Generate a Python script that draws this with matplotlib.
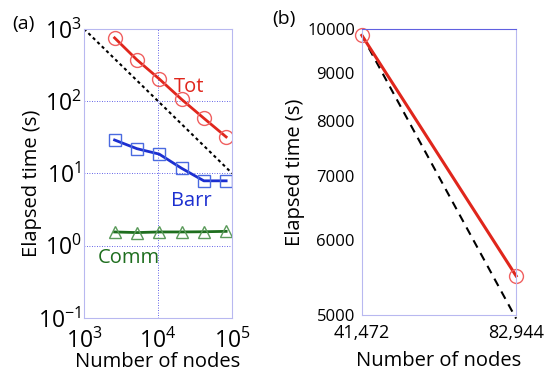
import matplotlib
matplotlib.use("Agg")
import matplotlib.pyplot as plt
from matplotlib.ticker import FixedLocator, NullLocator, NullFormatter

plt.rcParams['font.family'] = ['Open Sans', 'DejaVu Sans']
plt.rcParams['mathtext.fontset'] = 'custom'
plt.rcParams['mathtext.rm'] = 'Open Sans'

# panel (a) data
nodes = [2592, 5184, 10368, 20736, 41472, 82944]
tot = [750, 373, 203, 106, 58, 32]
barr = [29, 22, 18.5, 11.8, 7.9, 7.9]
comm = [1.55, 1.52, 1.55, 1.55, 1.56, 1.58]
ideal_a_x = [1e3, 1e5]
ideal_a_y = [1e3, 1e1]

# panel (b) data
nodes_b = [41472, 82944]
tot_b = [9850, 5500]
ideal_b = [9850, 4960]

grid_col = "#3030e0"
spine_col = "#b8b8f0"

fig = plt.figure(figsize=(5.45, 3.78), dpi=100)

# ---- (a)
ax = fig.add_axes([0.154, 0.1587, 0.272, 0.765])
ax.set_xscale("log")
ax.set_yscale("log")
ax.plot(ideal_a_x, ideal_a_y, "k--", lw=1.5, dashes=(1.5, 1.5))
ax.plot(nodes, tot, color="#e0261c", lw=2, marker="o", ms=10, mfc="none", mec="#f06060", mew=1)
ax.plot(nodes, barr, color="#1c2fd0", lw=2, marker="s", ms=9, mfc="none", mec="#4a6ae0", mew=1)
ax.plot(nodes, comm, color="#1e6e1e", lw=2, marker="^", ms=9, mfc="none", mec="#5a9a5a", mew=1)
ax.set_xlim(1e3, 1e5)
ax.set_ylim(1e-1, 1e3)
ax.xaxis.set_major_locator(FixedLocator([1e3, 1e4, 1e5]))
ax.yaxis.set_major_locator(FixedLocator([1e-1, 1e0, 1e1, 1e2, 1e3]))
ax.xaxis.set_minor_locator(NullLocator())
ax.yaxis.set_minor_locator(NullLocator())
ax.grid(True, color=grid_col, ls=(0, (1, 2)), lw=0.6)
for s in ax.spines.values():
    s.set_color(spine_col)
ax.tick_params(length=0, labelsize=16.5, pad=2)
ax.tick_params(axis="x", pad=8)
ax.set_xlabel("Number of nodes", fontsize=14.5)
ax.set_ylabel("Elapsed time (s)", fontsize=14.5)
ax.xaxis.set_label_coords(0.5, -0.118)
ax.yaxis.set_label_coords(-0.284, 0.467)
ax.text(2.6e4, 155, "Tot", color="#e0261c", fontsize=14.5, ha="center", va="center")
ax.text(2.8e4, 4.2, "Barr", color="#1c2fd0", fontsize=14.5, ha="center", va="center")
ax.text(4.0e3, 0.68, "Comm", color="#1e6e1e", fontsize=14.5, ha="center", va="center")
fig.text(23 / 545, 1 - 24 / 378, "(a)", fontsize=14, ha="center", va="center")

# ---- (b)
bx = fig.add_axes([0.664, 0.166, 0.283, 0.757])
bx.set_xscale("log")
bx.set_yscale("log")
bx.plot(nodes_b, ideal_b, "k--", lw=1.5, dashes=(4, 3))
bx.plot(nodes_b, tot_b, color="#e0261c", lw=2.2, marker="o", ms=10, mfc="none", mec="#f06060", mew=1)
bx.set_xlim(41472, 82944)
bx.set_ylim(5000, 10000)
bx.xaxis.set_major_locator(FixedLocator(nodes_b))
bx.xaxis.set_major_formatter(plt.FuncFormatter(lambda v, p: "{:,}".format(int(round(v)))))
bx.xaxis.set_minor_locator(NullLocator())
bx.yaxis.set_major_locator(FixedLocator([5000, 6000, 7000, 8000, 9000, 10000]))
bx.yaxis.set_major_formatter(plt.FuncFormatter(lambda v, p: "{:d}".format(int(round(v)))))
bx.yaxis.set_minor_locator(NullLocator())
bx.yaxis.set_minor_formatter(NullFormatter())
bx.xaxis.set_minor_formatter(NullFormatter())
for s in bx.spines.values():
    s.set_color(spine_col)
bx.spines["top"].set_linestyle((0, (1, 1)))
bx.spines["top"].set_color("#6060e0")
for line in bx.get_lines():
    line.set_clip_on(False)
bx.tick_params(axis="y", length=0, labelsize=12, pad=5)
bx.tick_params(axis="x", length=0, labelsize=13, pad=6)
bx.set_xlabel("Number of nodes", fontsize=14.5)
bx.set_ylabel("Elapsed time (s)", fontsize=14.5)
bx.xaxis.set_label_coords(0.5, -0.125)
bx.yaxis.set_label_coords(-0.37, 0.5)
fig.text(284 / 545, 1 - 19 / 378, "(b)", fontsize=14, ha="center", va="center")

fig.savefig("out.png", dpi=100)
